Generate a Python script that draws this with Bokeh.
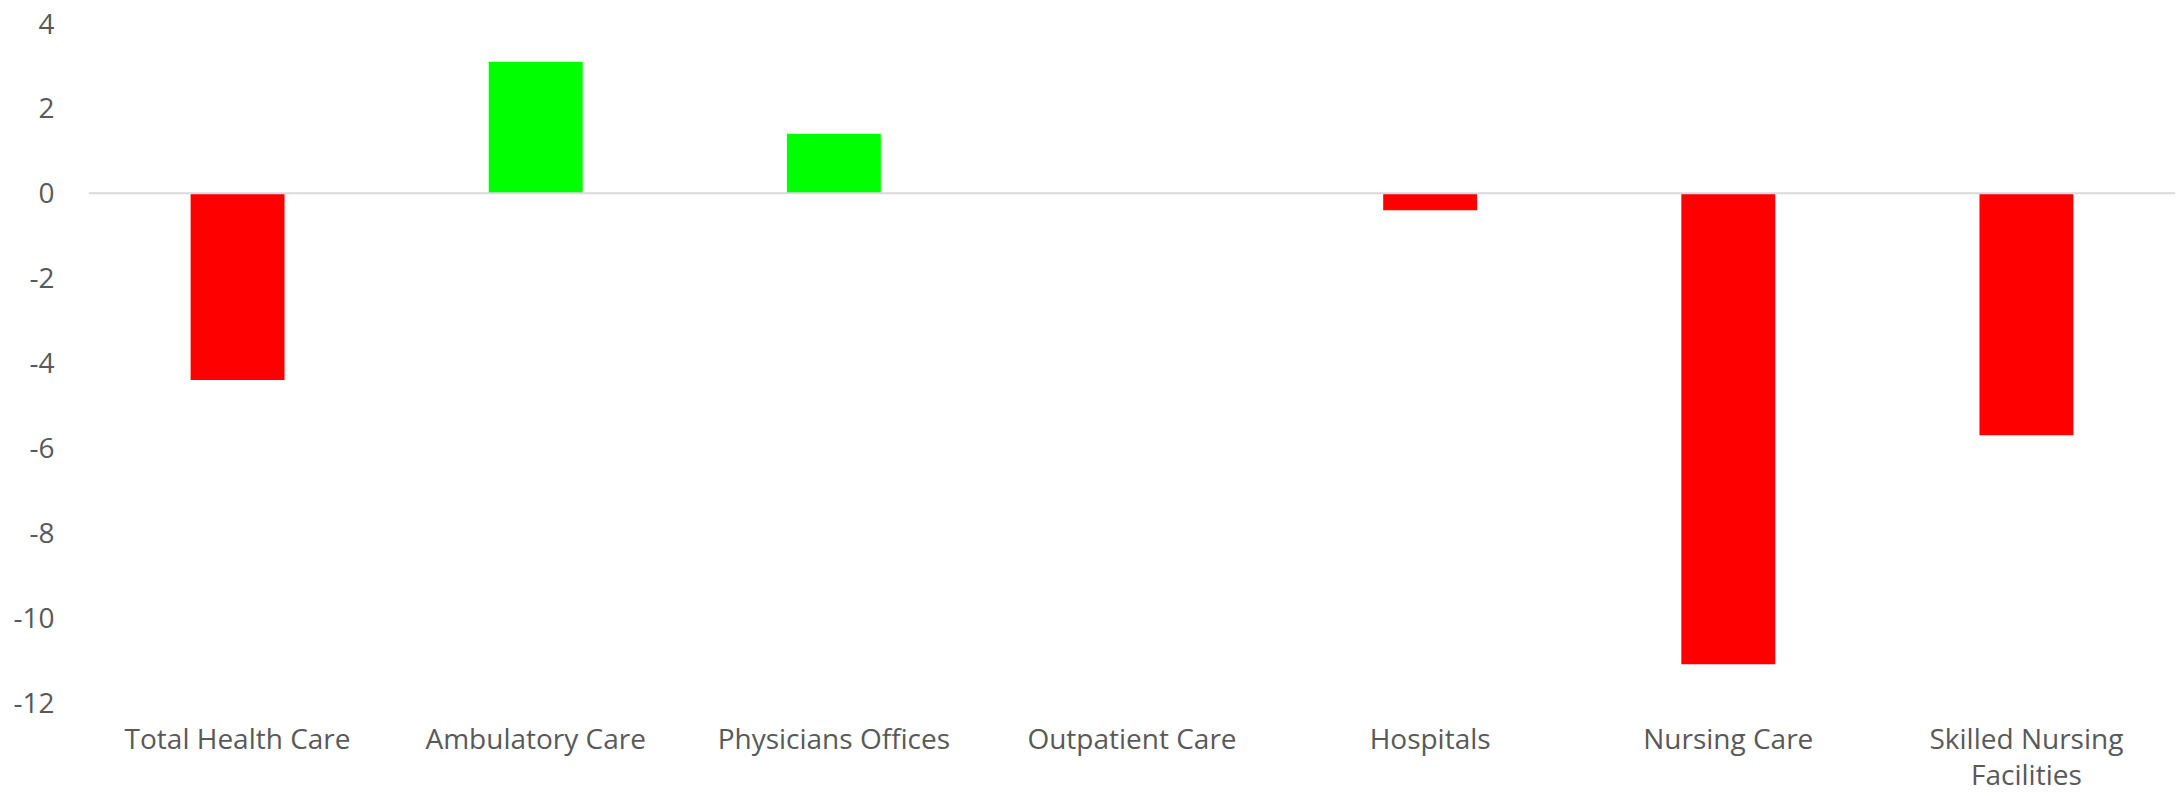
from bokeh.plotting import figure
from bokeh.models import ColumnDataSource, FactorRange, Range1d, FixedTicker, Span
from bokeh.embed import file_html
from bokeh.resources import INLINE

categories = ["Total Health Care", "Ambulatory Care", "Physicians Offices", "Outpatient Care",
              "Hospitals", "Nursing Care", "Skilled Nursing\nFacilities"]
values = [-4.4, 3.1, 1.4, 0.0, -0.4, -11.1, -5.7]
y_ticks = [-12, -10, -8, -6, -4, -2, 0, 2, 4]

colors = ["#00FF00" if v > 0 else "#FF0000" for v in values]
src = ColumnDataSource(dict(cat=categories, val=values, color=colors))

p = figure(x_range=FactorRange(*categories, range_padding=0), y_range=Range1d(-12, 4),
           width=2178, height=796, output_backend="svg", toolbar_location=None,
           min_border_left=88, min_border_right=3, min_border_top=23, min_border_bottom=91)
p.outline_line_color = None
p.background_fill_color = "white"
p.border_fill_color = "white"

p.vbar(x="cat", top="val", bottom=0, width=0.315, fill_color="color", line_color=None, source=src)
p.add_layout(Span(location=0, dimension="width", line_color="#D9D9D9", line_width=2))

p.xgrid.visible = False
p.ygrid.visible = False

ya = p.yaxis[0]
ya.ticker = FixedTicker(ticks=y_ticks)
ya.major_label_overrides = {t: str(t) for t in y_ticks}
ya.axis_line_color = None
ya.major_tick_line_color = None
ya.minor_tick_line_color = None
ya.major_tick_out = 0
ya.major_tick_in = 0
ya.major_label_standoff = 34
ya.major_label_text_font = "Open Sans"
ya.major_label_text_font_size = "28px"
ya.major_label_text_color = "#595959"

xa = p.xaxis[0]
xa.axis_line_color = None
xa.major_tick_line_color = None
xa.minor_tick_line_color = None
xa.major_tick_out = 0
xa.major_tick_in = 0
xa.major_label_standoff = 16
xa.major_label_text_font = "Open Sans"
xa.major_label_text_font_size = "28px"
xa.major_label_text_line_height = 0.97
xa.major_label_text_color = "#595959"
xa.major_label_orientation = "horizontal"

open("out.html", "w").write(file_html(p, INLINE))
